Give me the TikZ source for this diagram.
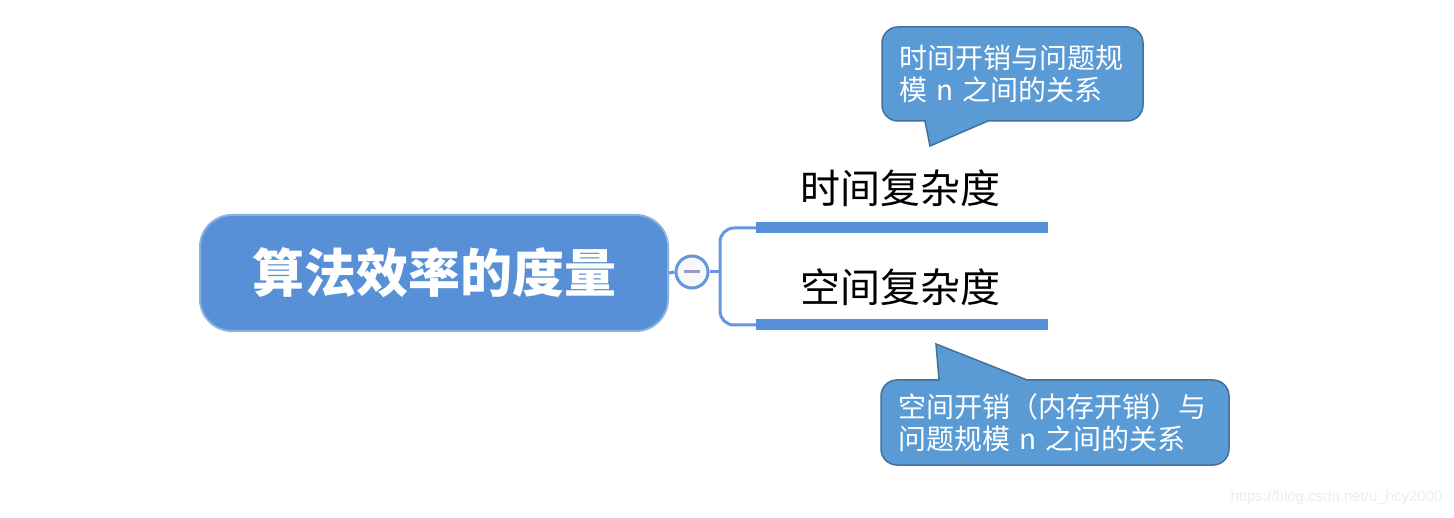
\documentclass[tikz,border=0pt]{standalone}
\usepackage{fontspec}
\setmainfont{Noto Sans CJK SC}
\newfontfamily\wmfont{Liberation Sans}
\usetikzlibrary{positioning}
\definecolor{rootblue}{RGB}{87,144,214}
\definecolor{linkblue}{RGB}{98,153,222}
\definecolor{callblue}{RGB}{91,155,213}
\definecolor{callrim}{RGB}{65,113,156}
\definecolor{minusgray}{RGB}{152,154,200}

\begin{document}
\begin{tikzpicture}[x=1pt, y=-1pt,
    rootbox/.style={rounded corners=32pt, fill=rootblue, draw=rootblue!70!white, line width=2pt,
        minimum width=468pt, minimum height=116pt, text=white, font=\fontsize{52}{60}\selectfont\bfseries},
    toggle/.style={circle, draw=linkblue, line width=3pt, fill=gray!6, minimum size=32pt, inner sep=0pt},
    branch/.style={draw=linkblue, line width=3pt},
    topicbar/.style={draw=rootblue, line width=11pt},
    topic/.style={font=\fontsize{40}{44}\selectfont, text=black, inner sep=0pt},
    callbox/.style={rounded corners=16pt, fill=callblue, draw=callrim, line width=1.5pt, text=white,
        align=left, inner xsep=17pt, font=\fontsize{28}{32}\selectfont},
    calltail/.style={fill=callblue, draw=none},
    tailrim/.style={draw=callrim, line width=1.5pt, line join=miter}]
    \useasboundingbox (0,0) rectangle (1454,518);

    % central topic and toggle
    \node[rootbox] (root) at (434,273) {算法效率的度量};
    \node[toggle] (tog) at (692,272) {};
    \draw[minusgray, line width=3pt] ([xshift=-8pt]tog.center) -- ([xshift=8pt]tog.center);
    \draw[branch] (root.east) -- (tog.west);

    % subtopics
    \coordinate (b1s) at (756,228);
    \coordinate (b1e) at (1048,228);
    \coordinate (b2s) at (756,325);
    \coordinate (b2e) at (1048,325);
    \draw[branch] (tog.east) -- (720,272);
    \draw[branch, rounded corners=14pt] (b1s) -- (720,228) -- (720,325) -- (b2s);
    \draw[topicbar] (b1s) -- (b1e);
    \draw[topicbar] (b2s) -- (b2e);
    \node[topic] (time) at (900,188) {时间复杂度};
    \node[topic] (space) at (900,287) {空间复杂度};

    % callouts
    \node[callbox, minimum width=261pt, minimum height=94pt, text width=227pt] (timenote) at (1012.5,74)
        {时间开销与问题规\\模 n 之间的关系};
    \fill[calltail] (925,121) -- (930,146) -- (988,121) -- cycle;
    \fill[calltail] (926,118) rectangle (987,121.5);
    \draw[tailrim] (925,121) -- (930,146) -- (988,121);

    \node[callbox, minimum width=348pt, minimum height=85pt, text width=314pt] (spacenote) at (1055,422.5)
        {空间开销（内存开销）与\\问题规模 n 之间的关系};
    \fill[calltail] (939,380) -- (936,344) -- (1027,380) -- cycle;
    \fill[calltail] (940,379.5) rectangle (1026,383);
    \draw[tailrim] (939,380) -- (936,344) -- (1027,380);

    % watermark
    \node[anchor=east, text=gray!15, font=\wmfont\fontsize{15}{18}\selectfont] (mark) at (1446,498)
        {https://blog.csdn.net/u\_hcy2000};
\end{tikzpicture}
\end{document}
